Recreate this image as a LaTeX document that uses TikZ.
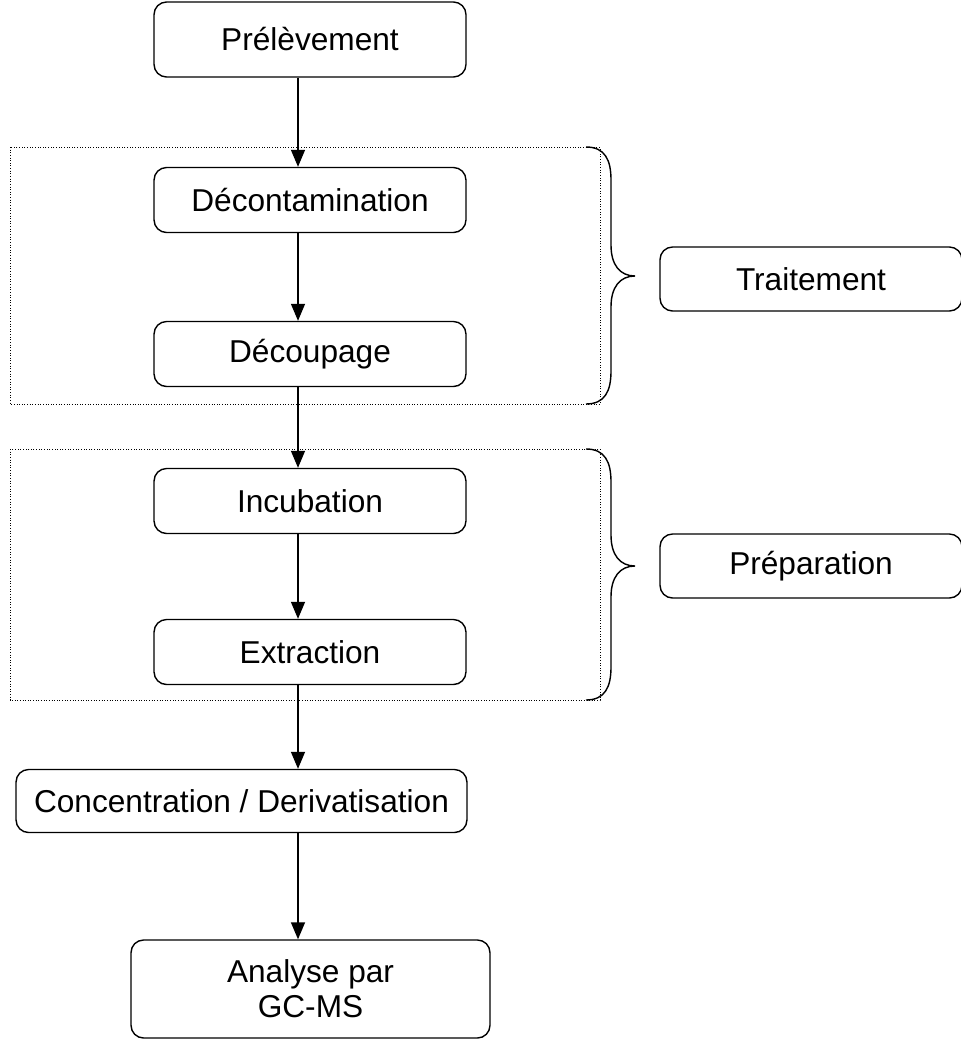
\documentclass[tikz,border=0pt]{standalone}
\usepackage{fontspec}
\setmainfont{Liberation Sans}
\usetikzlibrary{arrows.meta}

\begin{document}
\begin{tikzpicture}[x=0.02cm,y=-0.02cm,>={Triangle[length=0.34cm,width=0.28cm]},line width=0.8pt]
              \tikzstyle{every node}=[draw,rounded corners=0.25cm,inner sep=0pt,align=center,
                font=\fontsize{18}{20}\selectfont];
                \useasboundingbox (0,0) rectangle (960,1041);

                % frames
                \path[draw,densely dotted,line width=0.5pt] (10,147) rectangle (600,404);
                \path[draw,densely dotted,line width=0.5pt] (10,449) rectangle (600,700);

                \path (310,39.5) node[minimum width=6.24cm,minimum height=1.5cm] (pre) {Prélèvement};
                \path (310,200)  node[minimum width=6.24cm,minimum height=1.3cm] (dec) {Décontamination};
                \path (310,354)  node[minimum width=6.24cm,minimum height=1.3cm] (cou) {Découpage};
                \path (310,501)  node[minimum width=6.24cm,minimum height=1.3cm] (inc) {Incubation};
                \path (310,652)  node[minimum width=6.24cm,minimum height=1.3cm] (ext) {Extraction};
                \path (241.5,801) node[minimum width=9.02cm,minimum height=1.26cm] (con) {Concentration / Derivatisation};
                \path (310.5,989) node[minimum width=7.18cm,minimum height=1.96cm] (ana) {Analyse par\\GC-MS};
                \path (811,279)  node[minimum width=6.04cm,minimum height=1.28cm] (tra) {Traitement};
                \path (811,566)  node[minimum width=6.04cm,minimum height=1.28cm] (pre2) {Préparation};

                \coordinate (axis) at (298,0);
                \path[->,draw] (pre.south -| axis) -- (dec.north -| axis);
                \path[->,draw] (dec.south -| axis) -- (cou.north -| axis);
                \path[->,draw] (cou.south -| axis) -- (inc.north -| axis);
                \path[->,draw] (inc.south -| axis) -- (ext.north -| axis);
                \path[->,draw] (ext.south -| axis) -- (con.north -| axis);
                \path[->,draw] (con.south -| axis) -- (ana.north -| axis);

                % braces
                \foreach \t/\m/\b in {147/276/404, 449/566/700}
                  \path[draw] (586,\t) .. controls (605,\t) and (611,\t+13) .. (611,\t+33)
                    -- (611,\m-31) .. controls (611,\m-11) and (620,\m) .. (635,\m)
                    .. controls (620,\m) and (611,\m+11) .. (611,\m+31)
                    -- (611,\b-33) .. controls (611,\b-13) and (605,\b) .. (586,\b);
            \end{tikzpicture}
\end{document}
